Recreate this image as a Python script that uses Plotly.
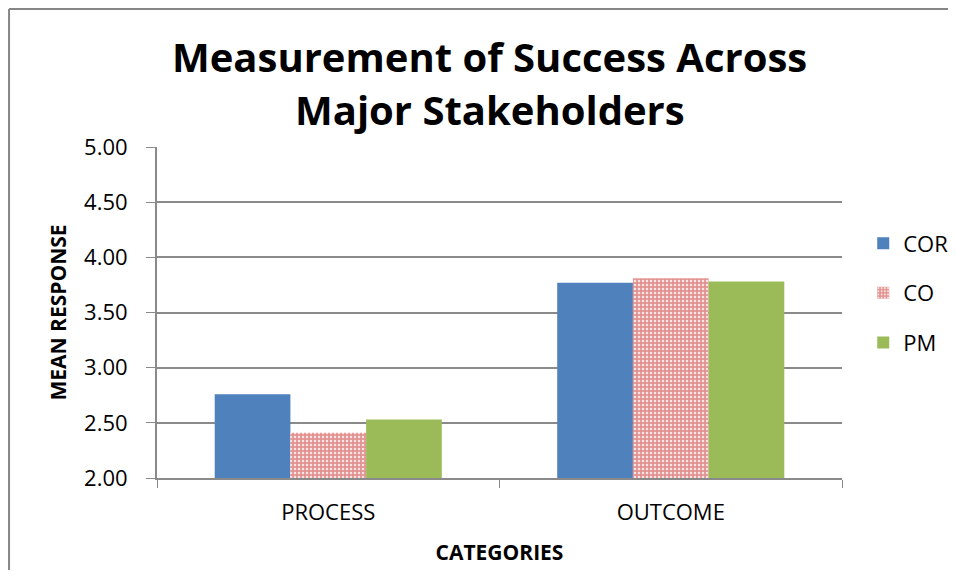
import plotly.graph_objects as go

# data
categories = ["PROCESS", "OUTCOME"]
series_names = ["COR", "CO", "PM"]
cor_values = [2.76, 3.77]
co_values = [2.41, 3.81]
pm_values = [2.53, 3.78]
y_ticks = [2.0, 2.5, 3.0, 3.5, 4.0, 4.5, 5.0]
title_lines = ["Measurement of Success Across", "Major Stakeholders"]

FONT = "Open Sans"
GRID = "#8a8a8a"

fig = go.Figure()

fig.add_trace(go.Bar(
    x=categories, y=cor_values, name=series_names[0], legendgroup="a",
    marker=dict(color="#4f81bd", line=dict(width=0)),
))
fig.add_trace(go.Bar(
    x=categories, y=co_values, name=series_names[1], legendgroup="b",
    marker=dict(
        color="#e8a09f",
        line=dict(width=0),
        pattern=dict(shape=".", fgcolor="#fbe6e5", bgcolor="#e29391",
                     size=4, solidity=0.3, fillmode="replace"),
    ),
))
fig.add_trace(go.Bar(
    x=categories, y=pm_values, name=series_names[2], legendgroup="c",
    marker=dict(color="#9bbb59", line=dict(width=0)),
))

# outer chart border: only left and top edges are visible in the reference
fig.add_shape(
    type="line", xref="paper", yref="paper",
    x0=-0.216, x1=-0.216, y0=-0.4, y1=1.417,
    line=dict(color="#868686", width=2), layer="below",
)
fig.add_shape(
    type="line", xref="paper", yref="paper",
    x0=-0.216, x1=1.3, y0=1.417, y1=1.417,
    line=dict(color="#868686", width=2), layer="below",
)

# two-line title, placed line by line
for text, ypos in zip(title_lines, [1.272, 1.113]):
    fig.add_annotation(
        text=f"<b>{text}</b>", xref="paper", yref="paper",
        x=0.486, y=ypos, xanchor="center", yanchor="middle",
        showarrow=False, font=dict(family=FONT, size=40, color="#000000"),
    )

fig.update_layout(
    width=940, height=562,
    barmode="group",
    bargap=0.337,
    bargroupgap=0,
    font=dict(family=FONT, color="#000000"),
    xaxis=dict(
        title=dict(text="<b>CATEGORIES</b>", font=dict(size=21), standoff=20),
        tickfont=dict(size=22),
        showline=True, linecolor=GRID, linewidth=2,
        ticks="outside", tickson="boundaries", ticklen=8, tickcolor=GRID,
        ticklabelstandoff=14,
        showgrid=False,
    ),
    yaxis=dict(
        title=dict(text="<b>MEAN RESPONSE</b>", font=dict(size=21), standoff=12),
        range=[2, 5],
        tickvals=y_ticks,
        tickformat=".2f",
        tickfont=dict(size=22),
        showline=True, linecolor=GRID, linewidth=2,
        ticks="outside", ticklen=9, tickcolor=GRID,
        ticklabelstandoff=14,
        showgrid=True, gridcolor=GRID, gridwidth=1.5,
        zeroline=False,
    ),
    legend=dict(
        x=1.031, xanchor="left", y=0.772, yanchor="top",
        font=dict(size=22),
        tracegroupgap=18, itemsizing="constant",
        bgcolor="rgba(0,0,0,0)",
    ),
    margin=dict(l=149, r=106, t=139, b=92, autoexpand=False),
    paper_bgcolor="white",
    plot_bgcolor="white",
)

fig.write_html("out.html")
